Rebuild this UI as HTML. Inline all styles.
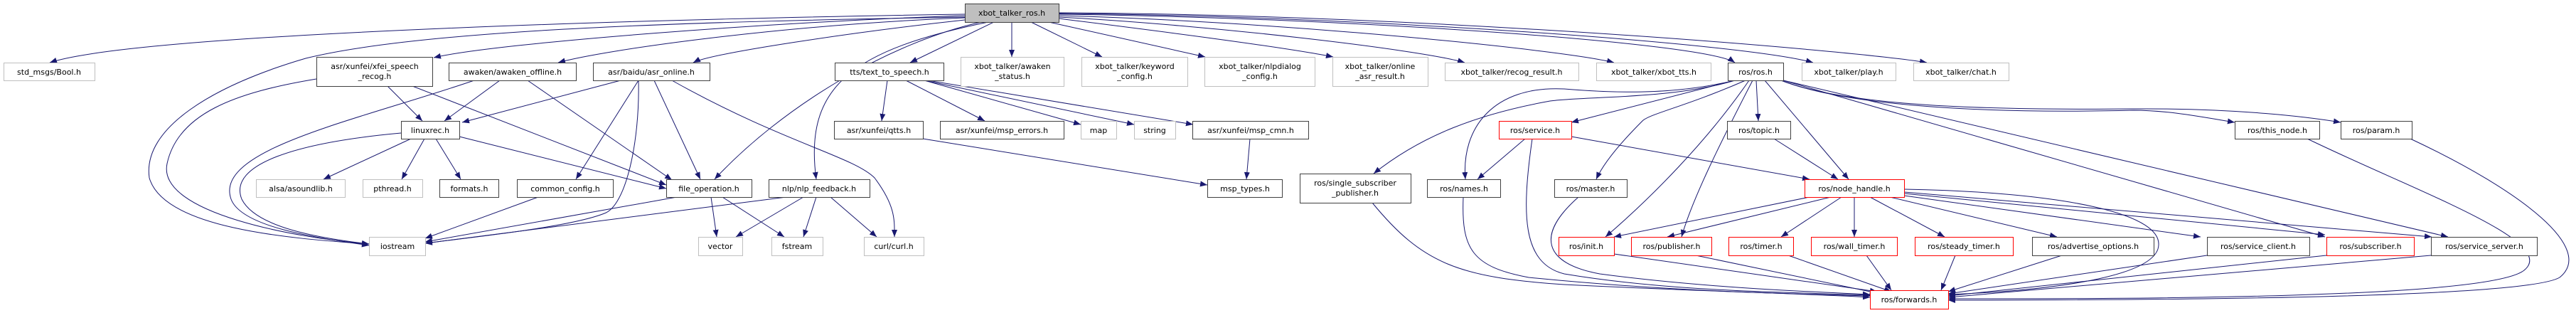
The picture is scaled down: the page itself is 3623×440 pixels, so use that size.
<!DOCTYPE html>
<html><head><meta charset="utf-8"><style>
html,body{margin:0;padding:0;background:#fff;}
svg{display:block;}
text{font-family:"DejaVu Sans","Liberation Sans",sans-serif;font-size:11px;fill:#000;text-anchor:middle;}
.e{fill:none;stroke:#191970;stroke-width:1;marker-end:url(#a);}
</style></head><body>
<svg width="3623" height="440" viewBox="0 0 3623 440" xmlns="http://www.w3.org/2000/svg">
<defs><marker id="a" markerUnits="userSpaceOnUse" markerWidth="10" markerHeight="8" refX="10" refY="4" orient="auto"><path d="M0,0 L10,4 L0,8 z" fill="#191970"/></marker></defs>
<g>
<path class="e" d="M1357,20 C1000,25 200,45 70,88"/>
<path class="e" d="M1357,22 C1100,30 700,60 610,81"/>
<path class="e" d="M1357,25 C1100,35 850,70 785,88"/>
<path class="e" d="M1357,28 C1200,45 1000,75 975,88"/>
<path class="e" d="M1357,24 C1000,30 600,40 430,82 C300,120 200,180 210,250 C230,320 400,335 519,343"/>
<path class="e" d="M1380,31 C1250,60 1100,150 1005,252"/>
<path class="e" d="M1390,31 C1200,70 1130,120 1148,252"/>
<path class="e" d="M1398,31 L1280,88"/>
<path class="e" d="M1423,31 L1423,80"/>
<path class="e" d="M1450,31 L1550,80"/>
<path class="e" d="M1475,31 L1695,80"/>
<path class="e" d="M1489,26 C1600,40 1800,65 1875,80"/>
<path class="e" d="M1489,24 C1700,35 2000,70 2060,88"/>
<path class="e" d="M1489,22 C1800,30 2200,70 2270,88"/>
<path class="e" d="M1489,20 C1900,25 2400,60 2440,88"/>
<path class="e" d="M1489,19 C1900,22 2450,60 2550,88"/>
<path class="e" d="M1489,18 C2000,20 2600,70 2710,88"/>

<path class="e" d="M445,111 C330,130 250,160 235,230 C220,300 420,335 519,343"/>
<path class="e" d="M545,121 L594,170"/>
<path class="e" d="M580,121 L937,260"/>
<path class="e" d="M667,113 C500,170 300,210 325,280 C340,320 450,335 519,345"/>
<path class="e" d="M703,113 L625,170"/>
<path class="e" d="M742,113 L945,253"/>
<path class="e" d="M873,113 L650,172"/>
<path class="e" d="M898,113 L810,252"/>
<path class="e" d="M898,113 C900,200 880,290 850,300 C800,320 650,335 598,342"/>
<path class="e" d="M920,113 L985,252"/>
<path class="e" d="M945,113 C1100,200 1200,220 1230,250 C1260,290 1258,310 1258,333"/>
<path class="e" d="M564,187 C420,200 320,230 340,280 C360,320 450,335 519,343"/>
<path class="e" d="M578,195 L455,252"/>
<path class="e" d="M597,195 L565,252"/>
<path class="e" d="M613,195 L648,252"/>
<path class="e" d="M646,192 L937,265"/>
<path class="e" d="M757,277 L598,335"/>
<path class="e" d="M952,277 L598,340"/>
<path class="e" d="M1000,277 L1008,333"/>
<path class="e" d="M1016,277 L1103,333"/>
<path class="e" d="M1106,277 L598,342"/>
<path class="e" d="M1130,277 L1035,333"/>
<path class="e" d="M1148,277 L1130,333"/>
<path class="e" d="M1168,277 L1233,333"/>
<path class="e" d="M1248,113 L1240,170"/>
<path class="e" d="M1274,113 L1385,170"/>
<path class="e" d="M1300,113 L1520,175"/>
<path class="e" d="M1300,113 L1595,175"/>
<path class="e" d="M1305,113 L1678,175"/>
<path class="e" d="M1298,195 L1698,260"/>
<path class="e" d="M1758,195 L1753,252"/>

<path class="e" d="M2440,113 C2350,140 2230,135 2180,142 C2080,160 2000,190 1932,244"/>
<path class="e" d="M2440,113 C2350,135 2260,130 2200,125 C2100,120 2055,180 2061,252"/>
<path class="e" d="M2440,113 L2210,172"/>
<path class="e" d="M2455,113 C2370,150 2320,160 2310,170 C2280,200 2255,230 2245,252"/>
<path class="e" d="M2460,113 C2400,200 2320,280 2258,333"/>
<path class="e" d="M2465,113 C2420,200 2380,280 2365,333"/>
<path class="e" d="M2470,113 L2473,170"/>
<path class="e" d="M2482,113 L2600,252"/>
<path class="e" d="M2505,113 C2600,150 2800,160 3000,155 C3050,155 3100,165 3143,172"/>
<path class="e" d="M2505,113 C2600,150 2800,155 3000,153 C3150,152 3250,165 3292,172"/>
<path class="e" d="M2508,113 L3270,333"/>
<path class="e" d="M2508,113 L3443,333"/>
<path class="e" d="M2145,195 L2078,252"/>
<path class="e" d="M2210,192 L2545,252"/>
<path class="e" d="M2155,195 C2140,300 2140,370 2200,385 C2350,410 2500,410 2630,415"/>
<path class="e" d="M2495,195 L2585,252"/>
<path class="e" d="M1930,285 C2000,370 2050,390 2200,400 C2400,410 2550,413 2630,418"/>
<path class="e" d="M2058,277 C2055,350 2070,375 2150,390 C2350,410 2520,413 2630,416"/>
<path class="e" d="M2220,277 C2160,330 2170,370 2250,385 C2400,405 2550,410 2630,414"/>
<path class="e" d="M2545,277 L2270,333"/>
<path class="e" d="M2575,277 L2345,333"/>
<path class="e" d="M2590,277 L2505,333"/>
<path class="e" d="M2608,277 L2608,333"/>
<path class="e" d="M2630,277 L2735,333"/>
<path class="e" d="M2658,277 L2893,333"/>
<path class="e" d="M2678,275 L3095,333"/>
<path class="e" d="M2678,272 L3270,330"/>
<path class="e" d="M2678,270 L3420,333"/>
<path class="e" d="M2678,266 C2900,270 3050,300 3035,350 C3020,395 2850,410 2740,414"/>
<path class="e" d="M2270,357 L2640,410"/>
<path class="e" d="M2385,359 L2640,412"/>
<path class="e" d="M2515,359 L2660,410"/>
<path class="e" d="M2625,359 L2660,408"/>
<path class="e" d="M2750,359 L2730,408"/>
<path class="e" d="M2900,359 L2740,410"/>
<path class="e" d="M3104,359 L2740,413"/>
<path class="e" d="M3272,359 L2740,416"/>
<path class="e" d="M3419,359 L2740,418"/>
<path class="e" d="M3245,195 C3400,270 3600,340 3550,380 C3500,420 3000,420 2740,420"/>
<path class="e" d="M3390,195 C3550,270 3650,350 3600,390 C3550,420 3000,422 2740,422"/>
</g>
<g stroke-width="1">
<rect x="1357.5" y="5.5" width="132" height="26" fill="#bfbfbf" stroke="#404040"/><text x="1423" y="22">xbot_talker_ros.h</text>
<g fill="#fff" stroke="#bfbfbf">
<rect x="5.5" y="88.5" width="128" height="25"/>
<rect x="1351.5" y="80.5" width="145" height="41"/>
<rect x="1521.5" y="80.5" width="149" height="41"/>
<rect x="1694.5" y="80.5" width="155" height="41"/>
<rect x="1874.5" y="80.5" width="134" height="41"/>
<rect x="2032.5" y="88.5" width="188" height="25"/>
<rect x="2245.5" y="88.5" width="161" height="25"/>
<rect x="2534.5" y="88.5" width="132" height="25"/>
<rect x="2691.5" y="88.5" width="134" height="25"/>
<rect x="360.5" y="252.5" width="125" height="25"/>
<rect x="510.5" y="252.5" width="84" height="25"/>
<rect x="519.5" y="333.5" width="79" height="26"/>
<rect x="982.5" y="333.5" width="62" height="26"/>
<rect x="1085.5" y="333.5" width="72" height="26"/>
<rect x="1215.5" y="333.5" width="84" height="26"/>
<rect x="1520.5" y="170.5" width="50" height="25"/>
<rect x="1595.5" y="170.5" width="58" height="25"/>
</g>
<g fill="#fff" stroke="#404040">
<rect x="445.5" y="80.5" width="163" height="41"/>
<rect x="631.5" y="88.5" width="179" height="25"/>
<rect x="834.5" y="88.5" width="164" height="25"/>
<rect x="1174.5" y="88.5" width="153" height="25"/>
<rect x="2430.5" y="88.5" width="78" height="25"/>
<rect x="564.5" y="170.5" width="82" height="25"/>
<rect x="618.5" y="252.5" width="83" height="25"/>
<rect x="727.5" y="252.5" width="135" height="25"/>
<rect x="937.5" y="252.5" width="120" height="25"/>
<rect x="1081.5" y="252.5" width="142" height="25"/>
<rect x="1173.5" y="170.5" width="125" height="25"/>
<rect x="1322.5" y="170.5" width="174" height="25"/>
<rect x="1677.5" y="170.5" width="163" height="25"/>
<rect x="1698.5" y="252.5" width="105" height="25"/>
<rect x="2429.5" y="170.5" width="89" height="25"/>
<rect x="1828.5" y="244.5" width="156" height="41"/>
<rect x="2007.5" y="252.5" width="103" height="25"/>
<rect x="2186.5" y="252.5" width="102" height="25"/>
<rect x="3143.5" y="170.5" width="119" height="25"/>
<rect x="3292.5" y="170.5" width="100" height="25"/>
<rect x="2858.5" y="333.5" width="171" height="26"/>
<rect x="3104.5" y="333.5" width="144" height="26"/>
<rect x="3419.5" y="333.5" width="149" height="26"/>
</g>
<g fill="#fff" stroke="#ff0000">
<rect x="2108.5" y="170.5" width="102" height="25"/>
<rect x="2538.5" y="252.5" width="140" height="25"/>
<rect x="2192.5" y="333.5" width="78" height="26"/>
<rect x="2294.5" y="333.5" width="113" height="26"/>
<rect x="2431.5" y="333.5" width="91" height="26"/>
<rect x="2547.5" y="333.5" width="121" height="26"/>
<rect x="2693.5" y="333.5" width="138" height="26"/>
<rect x="3272.5" y="333.5" width="123" height="26"/>
<rect x="2630.5" y="408.5" width="110" height="26"/>
</g>
</g>
<g>
<text x="69" y="105">std_msgs/Bool.h</text>
<text x="527" y="97">asr/xunfei/xfei_speech</text><text x="527" y="111">_recog.h</text>
<text x="721" y="105">awaken/awaken_offline.h</text>
<text x="916" y="105">asr/baidu/asr_online.h</text>
<text x="1251" y="105">tts/text_to_speech.h</text>
<text x="1424" y="97">xbot_talker/awaken</text><text x="1424" y="111">_status.h</text>
<text x="1596" y="97">xbot_talker/keyword</text><text x="1596" y="111">_config.h</text>
<text x="1772" y="97">xbot_talker/nlpdialog</text><text x="1772" y="111">_config.h</text>
<text x="1941" y="97">xbot_talker/online</text><text x="1941" y="111">_asr_result.h</text>
<text x="2126" y="105">xbot_talker/recog_result.h</text>
<text x="2326" y="105">xbot_talker/xbot_tts.h</text>
<text x="2469" y="105">ros/ros.h</text>
<text x="2600" y="105">xbot_talker/play.h</text>
<text x="2758" y="105">xbot_talker/chat.h</text>
<text x="605" y="187">linuxrec.h</text>
<text x="1236" y="187">asr/xunfei/qtts.h</text>
<text x="1409" y="187">asr/xunfei/msp_errors.h</text>
<text x="1545" y="187">map</text>
<text x="1624" y="187">string</text>
<text x="1759" y="187">asr/xunfei/msp_cmn.h</text>
<text x="2159" y="187">ros/service.h</text>
<text x="2474" y="187">ros/topic.h</text>
<text x="3203" y="187">ros/this_node.h</text>
<text x="3342" y="187">ros/param.h</text>
<text x="423" y="269">alsa/asoundlib.h</text>
<text x="552" y="269">pthread.h</text>
<text x="660" y="269">formats.h</text>
<text x="795" y="269">common_config.h</text>
<text x="997" y="269">file_operation.h</text>
<text x="1152" y="269">nlp/nlp_feedback.h</text>
<text x="1751" y="269">msp_types.h</text>
<text x="1906" y="261">ros/single_subscriber</text><text x="1906" y="275">_publisher.h</text>
<text x="2059" y="269">ros/names.h</text>
<text x="2237" y="269">ros/master.h</text>
<text x="2608" y="269">ros/node_handle.h</text>
<text x="559" y="350">iostream</text>
<text x="1013" y="350">vector</text>
<text x="1121" y="350">fstream</text>
<text x="1257" y="350">curl/curl.h</text>
<text x="2231" y="350">ros/init.h</text>
<text x="2351" y="350">ros/publisher.h</text>
<text x="2477" y="350">ros/timer.h</text>
<text x="2608" y="350">ros/wall_timer.h</text>
<text x="2762" y="350">ros/steady_timer.h</text>
<text x="2944" y="350">ros/advertise_options.h</text>
<text x="3176" y="350">ros/service_client.h</text>
<text x="3334" y="350">ros/subscriber.h</text>
<text x="3494" y="350">ros/service_server.h</text>
<text x="2685" y="425">ros/forwards.h</text>
</g>
</svg>
</body></html>
